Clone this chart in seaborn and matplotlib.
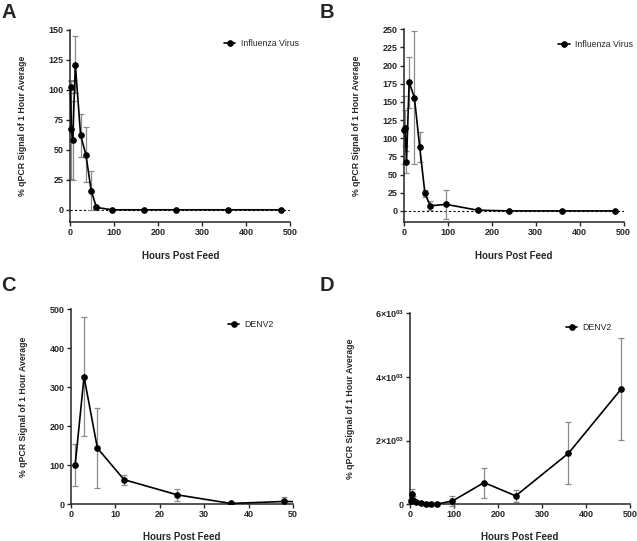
"""
qPCR signal over time after feeding, four panels (A-D).
"""
import matplotlib
matplotlib.use("Agg")
import matplotlib.pyplot as plt
import seaborn as sns
from matplotlib.ticker import FixedLocator, FuncFormatter

# --- data ---
hours = [1, 3, 6, 12, 24, 36, 48, 60, 96, 168, 240, 360, 480]

flu_a_mean = [102, 67, 58, 121, 62, 46, 16, 2, 0, 0, 0, 0, 0]
flu_a_err = [5, 41, 33, 24, 18, 23, 16, 1, 0, 0, 0, 0, 0]

flu_b_mean = [111, 114, 67, 177, 156, 88, 24, 7, 9, 1, 0, 0, 0]
flu_b_err = [47, 25, 15, 35, 92, 21, 5, 6, 20, 1, 0, 0, 0]

denv_mean = [100, 327, 144, 63, 24, 2, 7, 5, 100, 680, 262, 1600, 3620]
denv_err = [54, 153, 103, 13, 15, 2, 12, 3, 145, 470, 185, 970, 1600]

flu_label = "Influenza Virus"
denv_label = "DENV2"
xlabel = "Hours Post Feed"
ylabel = "% qPCR Signal of 1 Hour Average"

sns.set_style("ticks")
plt.rcParams["font.family"] = ["Liberation Sans", "DejaVu Sans"]
plt.rcParams["mathtext.fontset"] = "custom"
plt.rcParams["mathtext.rm"] = "Liberation Sans"
plt.rcParams["mathtext.bf"] = "Liberation Sans:bold"

fig = plt.figure(figsize=(6.37, 5.41), dpi=100)

# axes rectangles in figure fractions
axA = fig.add_axes([0.110, 0.590, 0.345, 0.355])
axB = fig.add_axes([0.634, 0.590, 0.345, 0.356])
axC = fig.add_axes([0.111, 0.068, 0.349, 0.360])
axD = fig.add_axes([0.644, 0.068, 0.345, 0.353])


def draw_panel(ax, mean, err, label, clip, zero_line):
    ax.errorbar(hours, mean, yerr=err, fmt="none", ecolor="#8a8a8a",
                elinewidth=0.9, capsize=2.3, capthick=0.9, zorder=2, clip_on=clip)
    sns.lineplot(x=hours, y=mean, ax=ax, color="black", marker="o",
                 markersize=4.0, markeredgecolor="black", linewidth=1.2,
                 label=label, zorder=3, clip_on=clip)
    if zero_line:
        ax.axhline(0, color="black", linestyle=(0, (2, 2)), linewidth=0.8, zorder=1)
    sns.despine(ax=ax)
    for s in ("left", "bottom"):
        ax.spines[s].set_linewidth(1.1)
    ax.tick_params(direction="out", length=3, width=1, labelsize=6.5, pad=1.5)
    ax.set_xlabel(xlabel, fontsize=7, fontweight="bold")
    ax.set_ylabel(ylabel, fontsize=6.3, fontweight="bold")


draw_panel(axA, flu_a_mean, flu_a_err, flu_label, False, True)
axA.set_xlim(0, 500)
axA.set_ylim(-10, 150)
axA.xaxis.set_major_locator(FixedLocator(range(0, 501, 100)))
axA.yaxis.set_major_locator(FixedLocator(range(0, 151, 25)))

draw_panel(axB, flu_b_mean, flu_b_err, flu_label, False, True)
axB.set_xlim(0, 500)
axB.set_ylim(-15, 250)
axB.xaxis.set_major_locator(FixedLocator(range(0, 501, 100)))
axB.yaxis.set_major_locator(FixedLocator(range(0, 251, 25)))

draw_panel(axC, denv_mean, denv_err, denv_label, True, False)
axC.set_xlim(0, 50)
axC.set_ylim(0, 500)
axC.xaxis.set_major_locator(FixedLocator(range(0, 51, 10)))
axC.yaxis.set_major_locator(FixedLocator(range(0, 501, 100)))

draw_panel(axD, denv_mean, denv_err, denv_label, False, False)
axD.set_xlim(0, 500)
axD.set_ylim(0, 6000)
axD.xaxis.set_major_locator(FixedLocator(range(0, 501, 100)))
axD.yaxis.set_major_locator(FixedLocator([0, 2000, 4000, 6000]))
axD.yaxis.set_major_formatter(FuncFormatter(
    lambda v, p: "0" if v == 0 else r"$\mathbf{%d{\times}10^{03}}$" % (v / 1000)))

# tick label fonts after locator/formatter changes
for ax in (axA, axB, axC, axD):
    for t in ax.get_xticklabels() + ax.get_yticklabels():
        t.set_fontweight("bold")
        t.set_fontsize(6.5)

# label placement, legends
label_pos = {axA: (-0.195, 0.504, -0.15), axB: (-0.195, 0.5, -0.15),
             axC: (-0.19, 0.5, -0.145), axD: (-0.25, 0.5, -0.147)}
legend_pos = {axA: (0.70, 0.927), axB: (0.703, 0.922),
              axC: (0.707, 0.923), axD: (0.709, 0.927)}
for ax in (axA, axB, axC, axD):
    ylx, xlx, xly = label_pos[ax]
    ax.yaxis.set_label_coords(ylx, 0.5)
    ax.xaxis.set_label_coords(xlx, xly)
    ax.legend(loc="center left", bbox_to_anchor=legend_pos[ax], frameon=False,
              fontsize=6.3, handlelength=1.3, handletextpad=0.6,
              borderpad=0, borderaxespad=0)

# panel letters
for letter, (x, y) in zip("ABCD", [(0.002, 0.995), (0.502, 0.995),
                                   (0.002, 0.49), (0.502, 0.49)]):
    fig.text(x, y, letter, fontsize=14.5, fontweight="bold", va="top", ha="left")

fig.savefig("out.png", dpi=100)
plt.close(fig)
